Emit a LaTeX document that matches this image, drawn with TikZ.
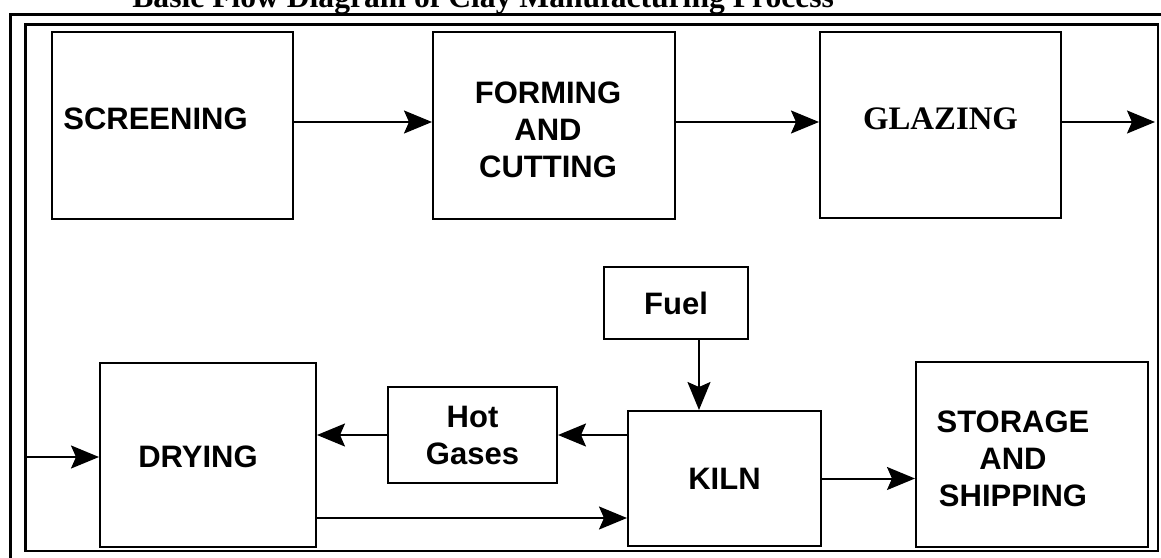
\documentclass[tikz,border=0pt]{standalone}
\usepackage{fontspec}
\setmainfont{Liberation Serif}
\setsansfont{Liberation Sans}
\usetikzlibrary{arrows.meta,calc}

\begin{document}
\begin{tikzpicture}[x=0.5pt,y=-0.5pt,
  box/.style={draw=black, line width=1pt, inner sep=0pt, align=center,
    font=\sffamily\bfseries\fontsize{15.5}{18.5}\selectfont},
  lbl/.style={inner sep=0pt, align=center,
    font=\sffamily\bfseries\fontsize{15.5}{18.5}\selectfont},
  flow/.style={line width=1pt, -{Stealth[length=14pt,width=11.5pt,inset=2.5pt]}}]

\useasboundingbox (0,0) rectangle (1161,557);
\clip (0,0) rectangle (1161,557);

%title, cut off at the top
\node[anchor=base west, inner sep=0pt, font=\rmfamily\bfseries\fontsize{15.8}{19}\selectfont] (title) at (132,8) {Basic Flow Diagram of Clay Manufacturing Process};

%frames
\draw[line width=1.9pt] (10.5,600) -- (10.5,14.5) -- (1200,14.5);
\draw[line width=1.2pt] (25.5,24.5) rectangle (1158,551);

%top row
\node[box, minimum width=120.5pt, minimum height=93.5pt,
  label={[lbl, xshift=-8.5pt, yshift=3.5pt]center:SCREENING}] (screening) at (172.5,125.5) {};
\node[box, minimum width=121pt, minimum height=93.5pt,
  label={[lbl, xshift=-3pt, yshift=-2.25pt]center:FORMING\\AND\\CUTTING}] (forming) at (554,125.5) {};
\node[box, minimum width=120.5pt, minimum height=93pt,
  label={[lbl, yshift=3pt, font=\rmfamily\bfseries\fontsize{16.4}{19}\selectfont]center:GLAZING}] (glazing) at (940.5,125) {};

%bottom row
\node[box, minimum width=108pt, minimum height=92pt,
  label={[lbl, xshift=-5pt, yshift=-1pt]center:DRYING}] (drying) at (208,455) {};
\node[box, minimum width=84.5pt, minimum height=48pt] (hotgases) at (472.5,435) {Hot\\Gases};
\node[box, minimum width=72pt, minimum height=36pt] (fuel) at (676,303) {Fuel};
\node[box, minimum width=96.5pt, minimum height=67.5pt] (kiln) at (724.5,478.5) {KILN};
\node[box, minimum width=116pt, minimum height=92.5pt,
  label={[lbl, xshift=-9.5pt, yshift=-2.25pt]center:STORAGE\\AND\\SHIPPING}] (storage) at (1032,454.5) {};

%free ends and arrow levels
\coordinate (toprow) at (0,122);
\coordinate (low) at (0,518);
\coordinate (out) at (1155,122);
\coordinate (in) at (26,457);

%arrows along the top
\draw[flow] (screening.east |- toprow) -- (forming.west |- toprow);
\draw[flow] (forming.east |- toprow) -- (glazing.west |- toprow);
\draw[flow] (glazing.east |- toprow) -- (out);

%arrows along the bottom
\draw[flow] (in) -- (in -| drying.west);
\draw[flow] (kiln.west |- hotgases.east) -- (hotgases.east);
\draw[flow] (hotgases.west) -- (hotgases.west -| drying.east);
\draw[flow] (drying.east |- low) -- (kiln.west |- low);
\draw[flow] ([xshift=11.5pt]fuel.south) -- ([xshift=11.5pt]fuel.south |- kiln.north);
\draw[flow] (kiln.east) -- (kiln.east -| storage.west);

\end{tikzpicture}
\end{document}
